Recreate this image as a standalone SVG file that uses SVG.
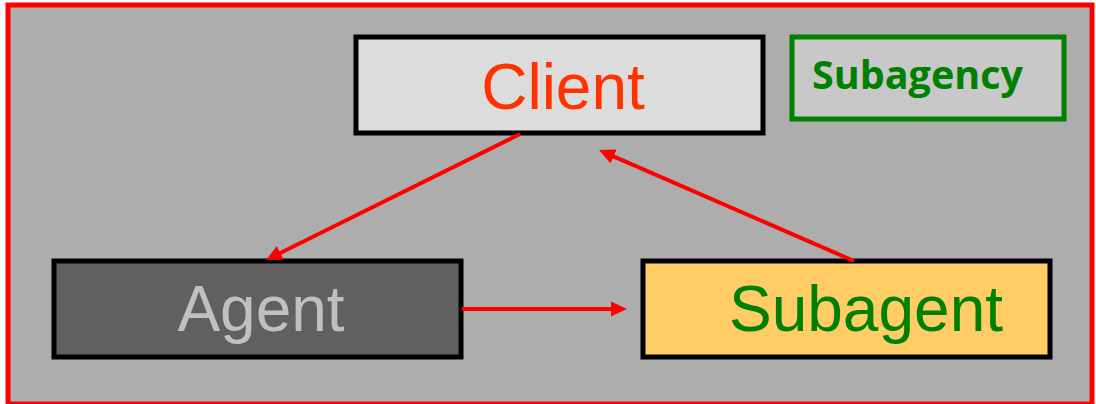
<svg xmlns="http://www.w3.org/2000/svg" width="1096" height="404" viewBox="0 0 1096 404">
<style>
.box{stroke:#000;stroke-width:5}
.lbl{font-family:"Liberation Sans",Arial,sans-serif;font-size:64px;text-anchor:middle}
.conn{stroke:#ff0000;stroke-width:4;fill:none}
</style>
<defs>
<marker id="arr" markerUnits="strokeWidth" markerWidth="4" markerHeight="4" refX="1" refY="1.9" orient="auto">
<path d="M0,0 L4,1.9 L0,3.8 z" fill="#ff0000"/>
</marker>
</defs>
<rect x="8" y="5" width="1084" height="399" fill="#adadad" stroke="#ff0000" stroke-width="5"/>
<g id="client">
<rect class="box" x="356" y="37" width="407" height="96" fill="#dcdcdc"/>
<text class="lbl" x="563" y="109" fill="#ff3300">Client</text>
</g>
<g id="subagency">
<rect x="792" y="37" width="272" height="82" fill="#c8c8c8" stroke="#008000" stroke-width="5"/>
<text x="812" y="89" font-family="'Open Sans','Noto Sans',sans-serif" font-weight="bold" font-size="39" fill="#008000" textLength="211" lengthAdjust="spacingAndGlyphs">Subagency</text>
</g>
<g id="agent">
<rect class="box" x="54" y="261" width="407" height="96" fill="#606060"/>
<text class="lbl" x="261" y="331" fill="#c0c0c0">Agent</text>
</g>
<g id="subagent">
<rect class="box" x="643" y="261" width="407" height="96" fill="#ffcc66"/>
<text class="lbl" x="866" y="331" fill="#008000">Subagent</text>
</g>
<g id="connectors">
<line class="conn" x1="520" y1="134" x2="276.75" y2="254.67" marker-end="url(#arr)"/>
<line class="conn" x1="854" y1="261" x2="610" y2="154.8" marker-end="url(#arr)"/>
<line class="conn" x1="462" y1="309" x2="615" y2="309" marker-end="url(#arr)"/>
</g>
</svg>
